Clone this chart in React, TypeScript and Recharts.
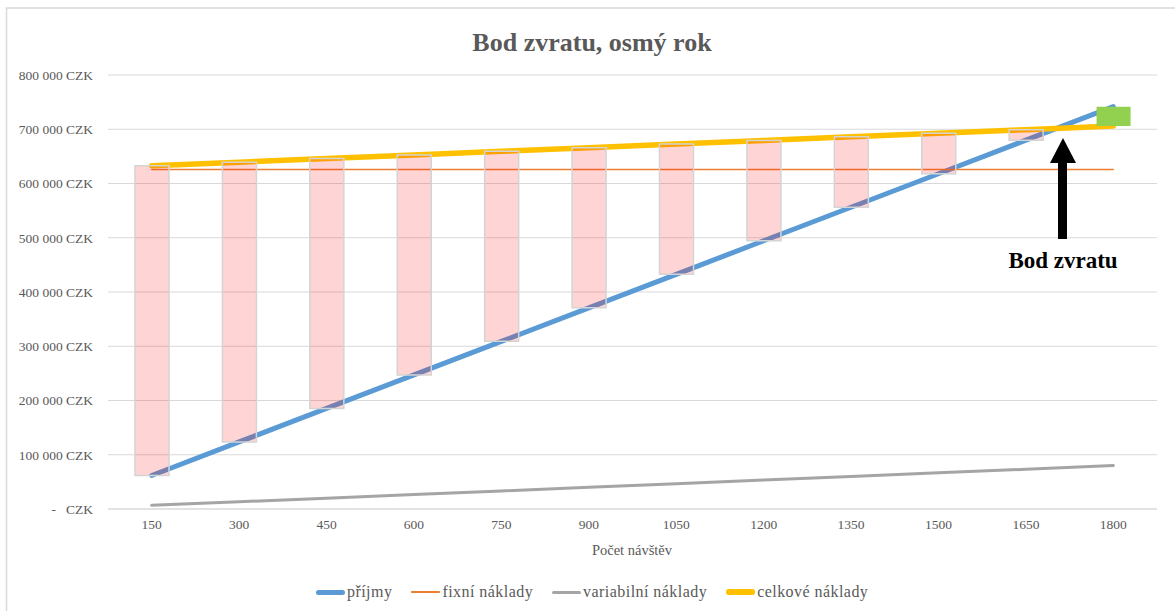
import React from 'react';
import { ComposedChart, Line, Bar, Cell, XAxis, YAxis, CartesianGrid } from 'recharts';

// Number of visitors per category
const visitors = ['150', '300', '450', '600', '750', '900', '1050', '1200', '1350', '1500', '1650', '1800'];

// Revenue (příjmy)
const revenue = [61800, 123600, 185400, 247200, 309000, 370800, 432600, 494400, 556200, 618000, 679800, 741600];

// Fixed costs (fixní náklady)
const fixedCosts = [626000, 626000, 626000, 626000, 626000, 626000, 626000, 626000, 626000, 626000, 626000, 626000];

// Variable costs (variabilní náklady)
const variableCosts = [6700, 13300, 20000, 26600, 33300, 40000, 46600, 53300, 60000, 66600, 73300, 80000];

const yTicks = [0, 100000, 200000, 300000, 400000, 500000, 600000, 700000, 800000];

const FONT = '"Liberation Serif", "Times New Roman", serif';
const TEXT = '#595959';

const series = [
  { key: 'revenue', name: 'příjmy', color: '#5B9BD5', width: 5 },
  { key: 'fixed', name: 'fixní náklady', color: '#ED7D31', width: 1.5 },
  { key: 'variable', name: 'variabilní náklady', color: '#A5A5A5', width: 3 },
  { key: 'total', name: 'celkové náklady', color: '#FFC000', width: 5.5 },
];

const data = visitors.map((v, i) => {
  const total = fixedCosts[i] + variableCosts[i];
  const rev = revenue[i];
  return {
    visitors: v,
    revenue: rev,
    fixed: fixedCosts[i],
    variable: variableCosts[i],
    total,
    gap: rev < total ? [rev, total] : [total, rev],
    profit: rev >= total,
  };
});

const formatCZK = (v: number) => {
  if (v === 0) return '-\u00A0\u00A0\u00A0CZK';
  return String(v).replace(/\B(?=(\d{3})+(?!\d))/g, '\u00A0') + '\u00A0CZK';
};

export default function App() {
  return (
    <div
      style={{
        position: 'absolute',
        left: 0,
        top: 0,
        width: 1175,
        height: 611,
        background: '#fff',
        overflow: 'hidden',
        fontFamily: FONT,
      }}
    >
      <svg width={1175} height={611} style={{ position: 'absolute', left: 0, top: 0 }}>
        <rect x={6.5} y={8} width={1200} height={700} fill="#fff" stroke="#D9D9D9" strokeWidth={1.5} />
      </svg>

      <ComposedChart
        width={1175}
        height={611}
        data={data}
        margin={{ top: 75, right: 18, bottom: 72, left: 0 }}
      >
        <CartesianGrid vertical={false} stroke="#D9D9D9" strokeWidth={1} />
        <XAxis
          dataKey="visitors"
          height={30}
          interval={0}
          axisLine={{ stroke: '#D9D9D9', strokeWidth: 1 }}
          tickLine={false}
          tickMargin={4}
          tick={{ fill: TEXT, fontSize: 13.5, fontFamily: FONT }}
        />
        <YAxis
          width={108}
          domain={[0, 800000]}
          ticks={yTicks}
          interval={0}
          axisLine={false}
          tickLine={false}
          tickMargin={9}
          tickFormatter={formatCZK}
          tick={{ fill: TEXT, fontSize: 13.5, fontFamily: FONT }}
        />
        {series.map((s) => (
          <Line
            key={s.key}
            type="linear"
            dataKey={s.key}
            name={s.name}
            stroke={s.color}
            strokeWidth={s.width}
            strokeLinecap="round"
            dot={false}
            activeDot={false}
            isAnimationActive={false}
          />
        ))}
        <Bar dataKey="gap" barSize={34} zIndex={450} isAnimationActive={false}>
          {data.map((d, i) => (
            <Cell
              key={i}
              fill={d.profit ? '#92D050' : 'rgba(255,0,0,0.17)'}
              stroke={d.profit ? 'none' : '#D4D4D4'}
              strokeWidth={d.profit ? 0 : 1.5}
            />
          ))}
        </Bar>
      </ComposedChart>

      <svg
        width={1175}
        height={611}
        style={{ position: 'absolute', left: 0, top: 0, pointerEvents: 'none' }}
      >
        <text x={592} y={51} textAnchor="middle" fontFamily={FONT} fontSize={26} fontWeight="bold" fill={TEXT}>
          Bod zvratu, osmý rok
        </text>
        <text x={632} y={555} textAnchor="middle" fontFamily={FONT} fontSize={14.5} fill={TEXT}>
          Počet návštěv
        </text>
        <rect x={1058} y={160} width={9} height={79} fill="#000" />
        <polygon points="1050,163 1076,163 1063,138" fill="#000" />
        <text x={1063} y={268} textAnchor="middle" fontFamily={FONT} fontSize={23} fontWeight="bold" fill="#000">
          Bod zvratu
        </text>
      </svg>

      <div
        style={{
          position: 'absolute',
          left: 316,
          top: 582,
          height: 20,
          display: 'flex',
          alignItems: 'center',
          fontFamily: FONT,
          fontSize: 16,
          letterSpacing: 0.45,
          color: TEXT,
          whiteSpace: 'nowrap',
        }}
      >
        {series.map((s) => (
          <div key={s.key} style={{ display: 'flex', alignItems: 'center', marginRight: 19 }}>
            <span
              style={{
                display: 'inline-block',
                width: 29,
                height: s.width,
                background: s.color,
                borderRadius: s.width / 2,
                marginRight: 2,
              }}
            />
            <span>{s.name}</span>
          </div>
        ))}
      </div>
    </div>
  );
}
